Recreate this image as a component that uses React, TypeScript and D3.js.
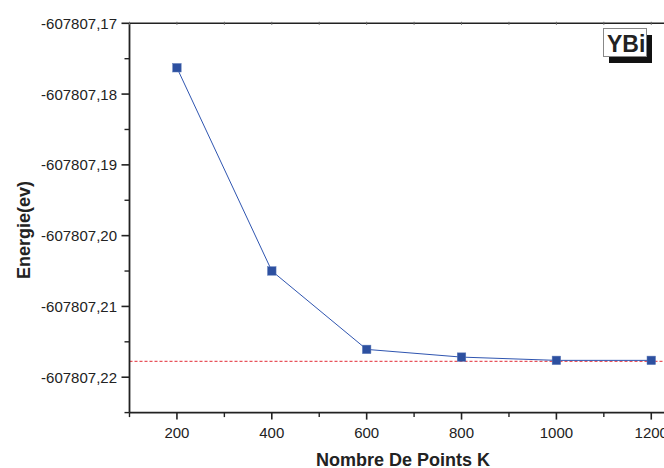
import React from "react";
import * as d3 from "d3";

const kPoints = [200, 400, 600, 800, 1000, 1200];
const energies = [-607807.17628, -607807.20499, -607807.21607, -607807.21716, -607807.21762, -607807.21762];
const refEnergy = -607807.21776;
const yTicks = [-607807.17, -607807.18, -607807.19, -607807.2, -607807.21, -607807.22];
const yTickLabels = ["-607807,17", "-607807,18", "-607807,19", "-607807,20", "-607807,21", "-607807,22"];
const yMinorTicks = [-607807.175, -607807.185, -607807.195, -607807.205, -607807.215, -607807.225];
const xTicks = [200, 400, 600, 800, 1000, 1200];
const xMinorTicks = [100, 300, 500, 700, 900, 1100, 1300];
const label = "YBi";

const W = 664;
const H = 468;
const FONT = "Arial, 'Liberation Sans', Helvetica, sans-serif";

export default function App() {
  const x = d3.scaleLinear().domain([100, 1300]).range([129.5, 698.7]);
  const y = d3.scaleLinear().domain([-607807.225, -607807.17]).range([412.6, 23.3]);
  const line = d3
    .line<number>()
    .x((_, i) => x(kPoints[i]))
    .y((d) => y(d));
  const x0 = x(100);
  const x1 = x(1300);
  const yTop = y(-607807.17);
  const yBot = y(-607807.225);
  const ms = 8.5;
  return (
    <svg
      width={W}
      height={H}
      style={{ position: "absolute", left: 0, top: 0, background: "#fff", fontFamily: FONT }}
    >
      <rect x={0} y={0} width={W} height={H} fill="#fff" />
      {/* reference dashed line */}
      <line
        x1={x0}
        x2={W}
        y1={y(refEnergy)}
        y2={y(refEnergy)}
        stroke="#e8545c"
        strokeWidth={1.1}
        strokeDasharray="3,2"
      />
      {/* series */}
      <path d={line(energies) || ""} fill="none" stroke="#2f55b0" strokeWidth={1} />
      {energies.map((v, i) => (
        <rect
          key={i}
          x={x(kPoints[i]) - ms / 2}
          y={y(v) - ms / 2}
          width={ms}
          height={ms}
          fill="#2d50a0"
          stroke="#5b78b8"
          strokeWidth={0.5}
        />
      ))}
      {/* axes frame */}
      <line x1={x0} x2={x1} y1={yTop} y2={yTop} stroke="#222" strokeWidth={1.6} />
      <line x1={x0} x2={x1} y1={yBot} y2={yBot} stroke="#222" strokeWidth={1.8} />
      <line x1={x0} x2={x0} y1={yTop} y2={yBot} stroke="#222" strokeWidth={1.8} />
      {/* y ticks */}
      {yTicks.map((t, i) => (
        <g key={i}>
          <line x1={x0 - 8} x2={x0} y1={y(t)} y2={y(t)} stroke="#222" strokeWidth={1.6} />
          <text x={117} y={y(t) + 5.5} textAnchor="end" fontSize={15} fill="#222">
            {yTickLabels[i]}
          </text>
        </g>
      ))}
      {yMinorTicks.map((t, i) => (
        <line key={i} x1={x0 - 5} x2={x0} y1={y(t)} y2={y(t)} stroke="#222" strokeWidth={1.4} />
      ))}
      {/* x ticks */}
      {xTicks.map((t, i) => (
        <g key={i}>
          <line x1={x(t)} x2={x(t)} y1={yBot} y2={yBot + 7} stroke="#222" strokeWidth={1.6} />
          <line x1={x(t)} x2={x(t)} y1={yTop - 1.5} y2={yTop + 1.5} stroke="#666" strokeWidth={1} />
          <text x={x(t)} y={438.3} textAnchor="middle" fontSize={15} fill="#222">
            {t}
          </text>
        </g>
      ))}
      {xMinorTicks.map((t, i) => (
        <g key={i}>
          <line x1={x(t)} x2={x(t)} y1={yBot} y2={yBot + 4.5} stroke="#222" strokeWidth={1.4} />
          <line x1={x(t)} x2={x(t)} y1={yTop - 1.5} y2={yTop + 1.5} stroke="#666" strokeWidth={1} />
        </g>
      ))}
      {/* axis titles */}
      <text x={403} y={466} textAnchor="middle" fontSize={18} fontWeight="bold" fill="#222">
        Nombre De Points K
      </text>
      <text
        transform="translate(30,230) rotate(-90)"
        textAnchor="middle"
        fontSize={18}
        fontWeight="bold"
        fill="#222"
      >
        Energie(ev)
      </text>
      {/* label box */}
      <rect x={609} y={35} width={43} height={28} fill="#111" />
      <rect x={603.5} y={28.5} width={43} height={28} fill="#fff" stroke="#888" strokeWidth={1} />
      <text x={607} y={51.7} fontSize={23} fontWeight="bold" fill="#222">
        {label}
      </text>
    </svg>
  );
}
